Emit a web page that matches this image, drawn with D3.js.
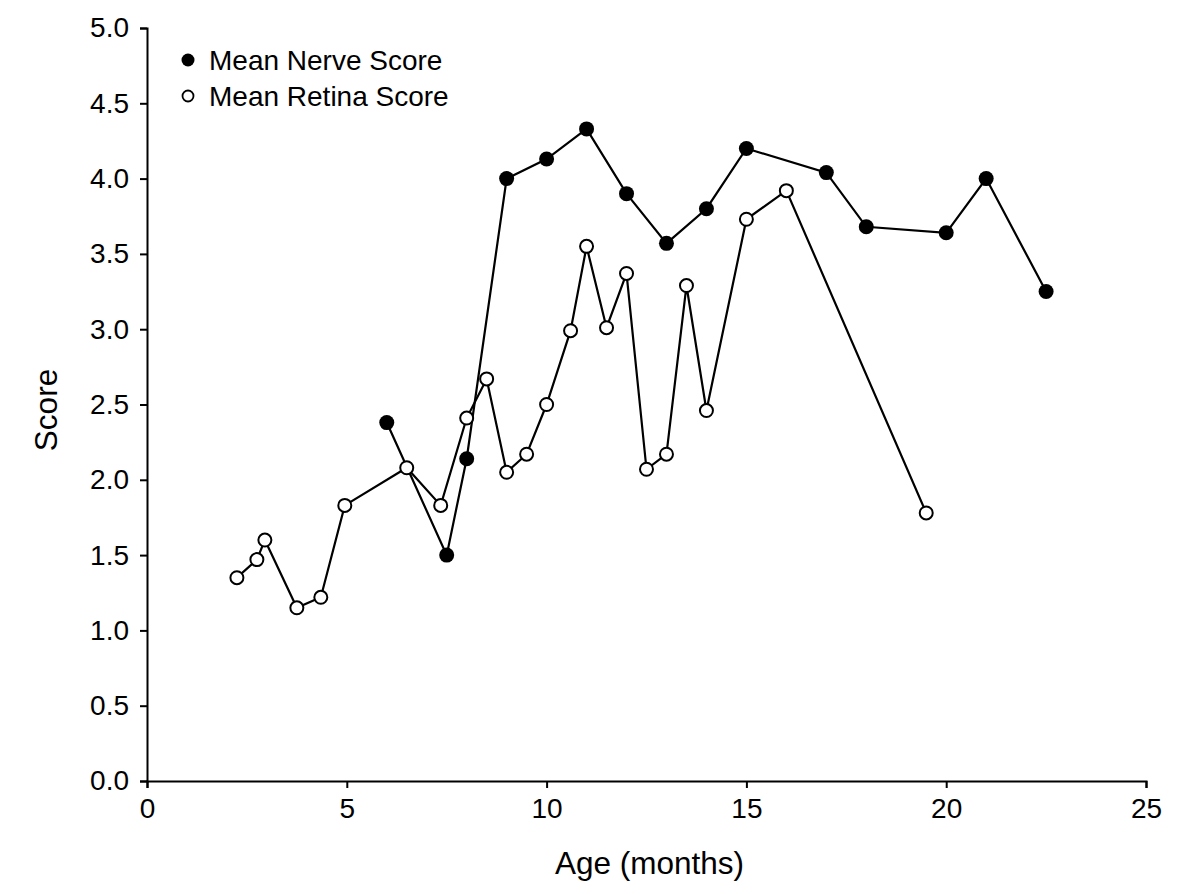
<!DOCTYPE html>
<html>
<head>
<meta charset="utf-8">
<script src="https://cdn.jsdelivr.net/npm/d3@7/dist/d3.min.js"></script>
<style>
  html, body { margin: 0; padding: 0; background: #fff; }
  svg { display: block; }
  text { font-family: "Liberation Sans", Arial, Helvetica, sans-serif; fill: #000; }
</style>
</head>
<body>
<svg id="chart" width="1200" height="894"></svg>
<script>
// ---- Data ----
const nerveAge   = [6, 7.5, 8, 9, 10, 11, 12, 13, 14, 15, 17, 18, 20, 21, 22.5];
const nerveScore = [2.38, 1.50, 2.14, 4.00, 4.13, 4.33, 3.90, 3.57, 3.80, 4.20, 4.04, 3.68, 3.64, 4.00, 3.25];

const retinaAge   = [2.25, 2.75, 2.95, 3.75, 4.35, 4.95, 6.5, 7.35, 8, 8.5, 9, 9.5, 10, 10.6, 11, 11.5, 12, 12.5, 13, 13.5, 14, 15, 16, 19.5];
const retinaScore = [1.35, 1.47, 1.60, 1.15, 1.22, 1.83, 2.08, 1.83, 2.41, 2.67, 2.05, 2.17, 2.50, 2.99, 3.55, 3.01, 3.37, 2.07, 2.17, 3.29, 2.46, 3.73, 3.92, 1.78];

const xTicks = [0, 5, 10, 15, 20, 25];
const yTicks = [0, 0.5, 1.0, 1.5, 2.0, 2.5, 3.0, 3.5, 4.0, 4.5, 5.0];
const seriesNames = ["Mean Nerve Score", "Mean Retina Score"];
const xTitle = "Age (months)";
const yTitle = "Score";

// ---- Layout ----
const svg = d3.select("#chart");
const plotLeft = 147, plotRight = 1146, plotTop = 28, plotBottom = 781;

const x = d3.scaleLinear().domain([0, 25]).range([plotLeft, plotRight]);
const y = d3.scaleLinear().domain([0, 5]).range([plotBottom, plotTop]);

// Axes
const xAxis = svg.append("g")
  .attr("transform", `translate(0,${plotBottom})`)
  .call(d3.axisBottom(x).tickValues(xTicks).tickFormat(d3.format("d")).tickSizeOuter(0).tickSize(7).tickPadding(10));
const yAxis = svg.append("g")
  .attr("transform", `translate(${plotLeft},0)`)
  .call(d3.axisLeft(y).tickValues(yTicks).tickFormat(d3.format(".1f")).tickSizeOuter(0).tickSize(7).tickPadding(11));

[xAxis, yAxis].forEach(g => {
  g.select(".domain").attr("stroke", "#000").attr("stroke-width", 2);
  g.selectAll(".tick line").attr("stroke", "#000").attr("stroke-width", 2);
  g.selectAll(".tick text").attr("fill", "#000")
    .style("font-family", '"Liberation Sans", Arial, sans-serif')
    .style("font-size", "28px");
});
xAxis.selectAll(".tick text").attr("dy", "0.72em");

// Titles
svg.append("text")
  .attr("x", (plotLeft + plotRight) / 2 + 3)
  .attr("y", 874)
  .attr("text-anchor", "middle")
  .style("font-size", "31.5px")
  .text(xTitle);

svg.append("text")
  .attr("transform", "translate(57,410) rotate(-90)")
  .attr("text-anchor", "middle")
  .style("font-size", "31.5px")
  .text(yTitle);

// Lines
const nerve = nerveAge.map((a, i) => ({ a, s: nerveScore[i] }));
const retina = retinaAge.map((a, i) => ({ a, s: retinaScore[i] }));
const line = d3.line().x(d => x(d.a)).y(d => y(d.s));

svg.append("path").datum(retina).attr("d", line)
  .attr("fill", "none").attr("stroke", "#000").attr("stroke-width", 2.2);
svg.append("path").datum(nerve).attr("d", line)
  .attr("fill", "none").attr("stroke", "#000").attr("stroke-width", 2.2);

// Markers
svg.append("g").selectAll("circle").data(retina).join("circle")
  .attr("cx", d => x(d.a)).attr("cy", d => y(d.s)).attr("r", 6.5)
  .attr("fill", "#fff").attr("stroke", "#000").attr("stroke-width", 2);
svg.append("g").selectAll("circle").data(nerve).join("circle")
  .attr("cx", d => x(d.a)).attr("cy", d => y(d.s)).attr("r", 7.5)
  .attr("fill", "#000");

// Legend
const legend = svg.append("g");
const legY = [60, 96];
legend.append("circle").attr("cx", 188).attr("cy", legY[0]).attr("r", 6.5).attr("fill", "#000");
legend.append("circle").attr("cx", 188).attr("cy", legY[1]).attr("r", 5.5)
  .attr("fill", "#fff").attr("stroke", "#000").attr("stroke-width", 1.8);
seriesNames.forEach((n, i) => {
  legend.append("text")
    .attr("x", 209).attr("y", legY[i]).attr("dy", "0.36em")
    .style("font-size", "28px")
    .text(n);
});
</script>
</body>
</html>
